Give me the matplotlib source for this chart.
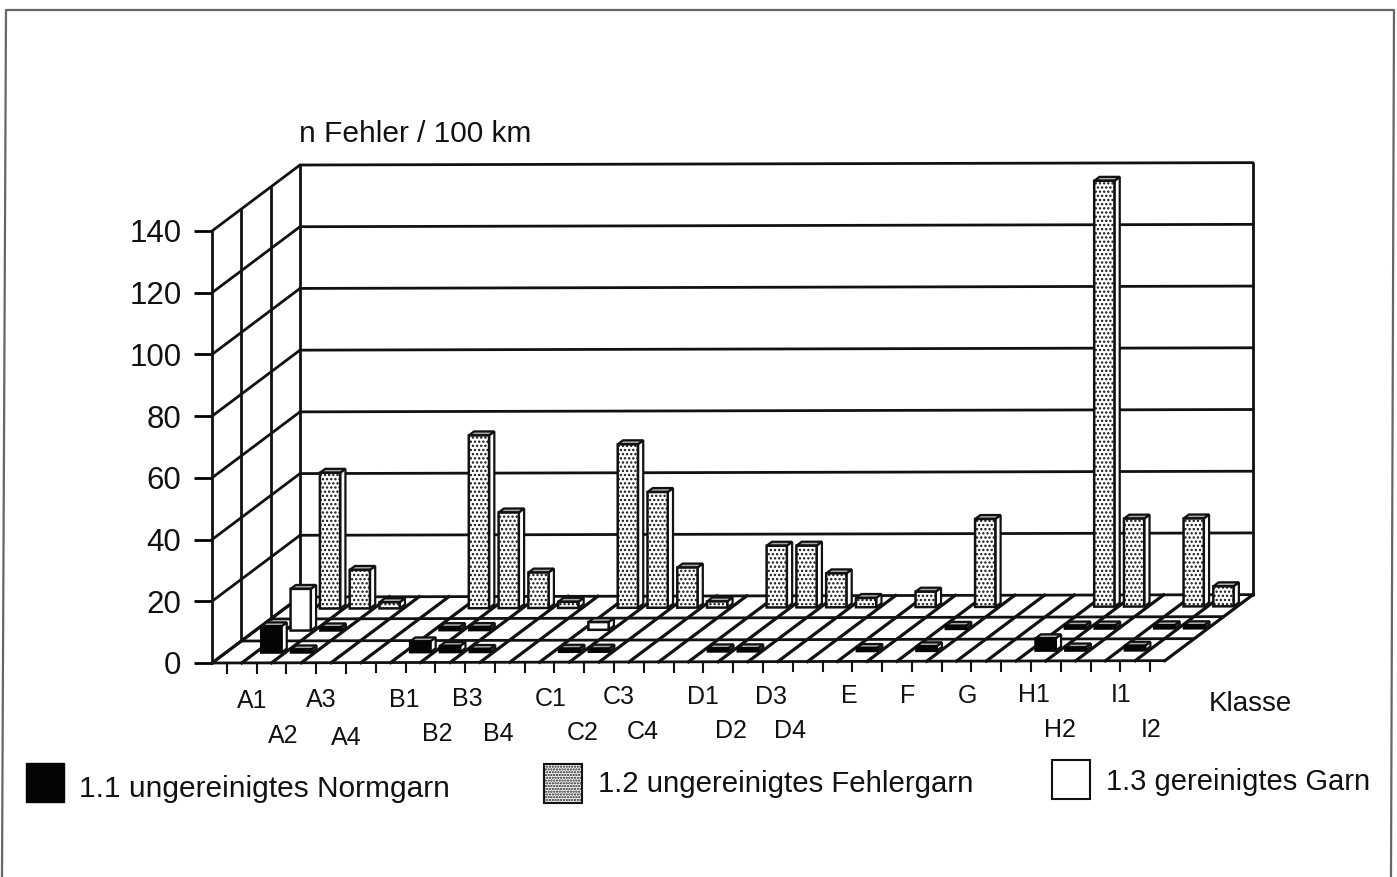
import matplotlib
matplotlib.use('Agg')
import matplotlib.pyplot as plt
from matplotlib.patches import Polygon, Rectangle

plt.rcParams['font.family'] = ['Liberation Sans', 'DejaVu Sans']
plt.rcParams['hatch.linewidth'] = 1.1

W, H = 1397, 877

# slot index on the floor -> value
normgarn = {1: 8.5, 2: 1, 6: 3.5, 7: 2, 8: 1, 11: 1, 12: 1, 16: 1, 17: 1, 21: 1, 23: 1.5, 27: 4, 28: 1, 30: 1.5}
gereinigt = {1: 13.5, 2: 1, 6: 1, 7: 1, 11: 2.5, 23: 1, 27: 1, 28: 1, 30: 1, 31: 1}
fehlergarn = {1: 44, 2: 12.5, 3: 2, 6: 56, 7: 31, 8: 11.5, 9: 2, 11: 53, 12: 37.5, 13: 13, 14: 2,
              16: 20, 17: 20, 18: 11, 19: 3, 21: 5, 23: 28.5, 27: 138, 28: 28.5, 30: 28.5, 31: 6.5}

y_ticks = [0, 20, 40, 60, 80, 100, 120, 140]

# label, x pixel, y pixel centre
labels_x = [('A1', 252, 701), ('A2', 283, 736), ('A3', 321, 700), ('A4', 346, 738),
            ('B1', 404, 700), ('B2', 437, 734), ('B3', 467, 699), ('B4', 498, 734),
            ('C1', 551, 699), ('C2', 583, 733), ('C3', 619, 697), ('C4', 643, 732),
            ('D1', 703, 697), ('D2', 731, 731), ('D3', 771, 697), ('D4', 790, 731),
            ('E', 849, 696), ('F', 908, 696), ('G', 967, 696),
            ('H1', 1034, 695), ('H2', 1060, 730), ('I1', 1121, 695), ('I2', 1151, 730)]

N_SLOTS = 32
DEPTH_X = 2.955 / 3   # slots per floor row
DEPTH_Y = 22.0 / 3.086  # value units per floor row
TILT = 0.024  # scan is slightly rotated


def proj(slot, row, val=0):
    return slot + row * DEPTH_X, val + row * DEPTH_Y + slot * TILT


fig = plt.figure(figsize=(W / 100, H / 100), dpi=100)
page = fig.add_axes([0, 0, 1, 1])
page.set_xlim(0, W)
page.set_ylim(H, 0)
page.axis('off')

# chart axes = front plane of the 3d box
ax = fig.add_axes([212 / W, 1 - 663 / H, (1165 - 212) / W, (663 - 231) / H])
ax.set_xlim(0, N_SLOTS)
ax.set_ylim(0, 140)
ax.patch.set_alpha(0)
for s in ax.spines.values():
    s.set_visible(False)
ax.set_xticks([])
ax.set_yticks(y_ticks)
ax.tick_params(axis='y', length=13, width=2, labelsize=22.5, pad=9, labelcolor='#111111')

LW = 2.0
line = dict(color='#111111', lw=LW, clip_on=False, solid_capstyle='round')

# left wall and back wall
for row in range(4):
    ax.plot(*zip(proj(0, row), proj(0, row, 140)), **line)
for v in y_ticks:
    ax.plot(*zip(proj(0, 0, v), proj(0, 3, v)), **line)
    if v > 0:
        ax.plot(*zip(proj(0, 3, v), proj(N_SLOTS, 3, v)), **line)
ax.plot(*zip(proj(N_SLOTS, 3, 0), proj(N_SLOTS, 3, 140)), **line)

# floor
ax.add_patch(Polygon([proj(0, 0), proj(N_SLOTS, 0), proj(N_SLOTS, 3), proj(0, 3)],
                     fc='white', ec='none', clip_on=False, zorder=1.5))
for row in range(4):
    ax.plot(*zip(proj(0, row), proj(N_SLOTS, row)), zorder=1.6, **line)
for s in range(N_SLOTS + 1):
    ax.plot(*zip(proj(s, 0), proj(s, 3)), zorder=1.6, color='#111111', lw=2.3, clip_on=False)

# ticks along the front edge
for s in range(N_SLOTS):
    x0, y0 = proj(s + 0.5, 0)
    ax.plot([x0, x0], [y0, y0 - 3.2], color='#111111', lw=1.5, clip_on=False)


def bar(slot, row, val, style, z):
    # 3d bar standing in the middle of a floor cell
    bw = 0.68
    dep = 0.18
    s0 = slot + 0.5 - bw / 2 + 0.03
    s1 = s0 + bw
    r0 = row + 0.47
    r1 = r0 + dep
    front = [proj(s0, r0), proj(s1, r0), proj(s1, r0, val), proj(s0, r0, val)]
    side = [proj(s1, r0), proj(s1, r1), proj(s1, r1, val), proj(s1, r0, val)]
    top = [proj(s0, r0, val), proj(s1, r0, val), proj(s1, r1, val), proj(s0, r1, val)]
    ax.add_patch(Polygon(side, fc='white', ec='#111111', lw=1.6, clip_on=False, zorder=z))
    ax.add_patch(Polygon(top, fc='#a8a8a8', ec='#111111', lw=1.6, clip_on=False, zorder=z))
    ax.add_patch(Polygon(front, clip_on=False, zorder=z, lw=1.8, **style))


style_black = dict(fc='#050505', ec='#050505')
style_white = dict(fc='white', ec='#111111')
style_dots = dict(fc='white', ec='#111111', hatch='....')

for slot, val in fehlergarn.items():
    bar(slot, 2, val, style_dots, 3)
for slot, val in gereinigt.items():
    bar(slot, 1, val, style_white if val > 1 else style_black, 4)
for slot, val in normgarn.items():
    bar(slot, 0, val, style_black, 5)

# page layer: frame, texts, legend
page.plot([2, 6, 1394, 1391], [877, 10, 10, 877], color='#666666', lw=1.6)
page.text(299, 134, 'n Fehler / 100 km', fontsize=21.5, va='center', ha='left', color='#111111')
page.text(1209, 704, 'Klasse', fontsize=20, va='center', ha='left', color='#111111')
for lab, x, y in labels_x:
    page.text(x, y, lab, fontsize=18, ha='center', va='center', color='#111111')

page.add_patch(Rectangle((26, 763), 38, 39, fc='#050505', ec='#050505', lw=1))
page.add_patch(Rectangle((544, 764), 38, 39, fc='white', ec='#111111', lw=1.5, hatch='......'))
page.add_patch(Rectangle((1052, 760), 38, 39, fc='white', ec='#111111', lw=1.5))
page.text(79, 789, '1.1 ungereinigtes Normgarn', fontsize=21.5, va='center', color='#111111')
page.text(598, 784, '1.2 ungereinigtes Fehlergarn', fontsize=21.2, va='center', color='#111111')
page.text(1106, 782, '1.3 gereinigtes Garn', fontsize=21, va='center', color='#111111')

fig.savefig('out.png', dpi=100)
